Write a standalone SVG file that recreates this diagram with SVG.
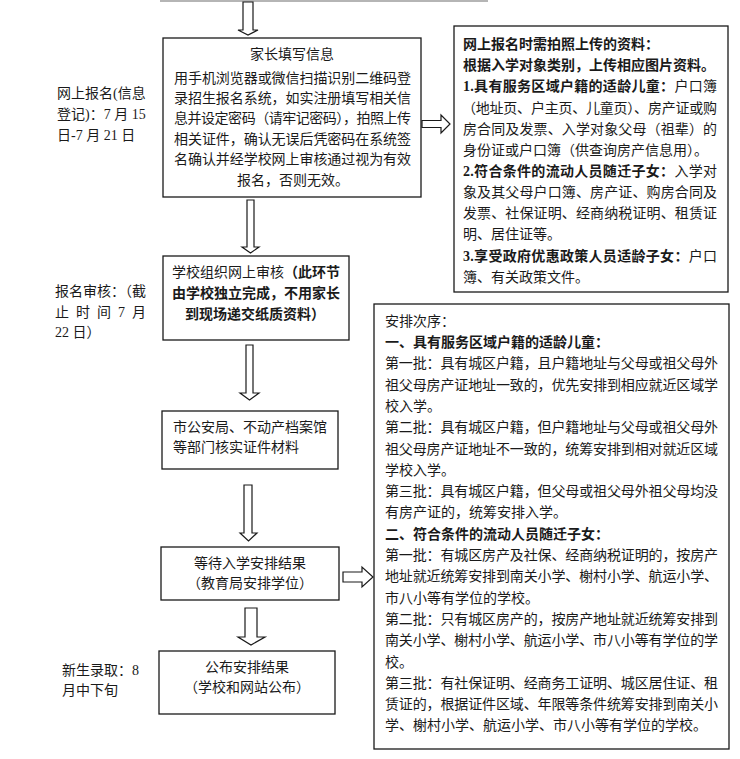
<svg xmlns="http://www.w3.org/2000/svg" width="740" height="759" viewBox="0 0 740 759">
<style>
.bg{fill:#fff}
.box{fill:#fff;stroke:#1a1a1a;stroke-width:1.3}
.arr{fill:#fff;stroke:#1a1a1a;stroke-width:1.2;stroke-linejoin:miter}
text{font-family:"Liberation Serif","Noto Sans CJK SC",serif;font-size:14px;fill:#1a1a1a}
.c{text-anchor:middle}
.b{font-weight:bold}
</style>
<rect class="bg" x="0" y="0" width="740" height="759"/>
<line x1="160" y1="1" x2="488" y2="1" stroke="#b5b5b5" stroke-width="2"/>

<g id="connectors">
  <polygon class="arr" points="243,2 253,2 253,30 258,30 248,35 238,30 243,30"/>
  <polygon class="arr" points="247,200 254,200 254,247 259,247 250.5,253 242,247 247,247"/>
  <polygon class="arr" points="246,345 253,345 253,393 259,393 249.5,400 240,393 246,393"/>
  <polygon class="arr" points="244,485 252,485 252,533 257,533 248.5,541 240,533 244,533"/>
  <polygon class="arr" points="245,608 257,608 257,637 265,637 251,645 238,637 245,637"/>
  <polygon class="arr" points="422,120.5 441,120.5 441,115 450,124 441,133 441,127.5 422,127.5"/>
  <polygon class="arr" points="343,572 362,572 362,567 373,577 362,587 362,582 343,582"/>
</g>

<g id="label-online">
  <text x="57" y="98">网上报名(信息</text>
  <text x="57" y="118.5">登记)：7 月 15</text>
  <text x="57" y="139.5">日-7 月 21 日</text>
</g>
<g id="label-review">
  <text x="55" y="296">报名审核：（截</text>
  <text x="55" y="317" textLength="91" lengthAdjust="spacing">止 时 间 7 月</text>
  <text x="55" y="337">22 日）</text>
</g>
<g id="label-admit">
  <text x="62" y="675">新生录取：8</text>
  <text x="62" y="695">月中下旬</text>
</g>

<g id="node-fill">
  <rect class="box" x="163" y="38" width="258" height="159"/>
  <text class="c" x="292" y="58.5">家长填写信息</text>
  <text x="174" y="82.5" textLength="237" lengthAdjust="spacing">用手机浏览器或微信扫描识别二维码登</text>
  <text x="174" y="102.8" textLength="237" lengthAdjust="spacing">录招生报名系统，如实注册填写相关信</text>
  <text x="174" y="123.4" textLength="237" lengthAdjust="spacing">息并设定密码（请牢记密码），拍照上传</text>
  <text x="174" y="143.8" textLength="237" lengthAdjust="spacing">相关证件，确认无误后凭密码在系统签</text>
  <text x="174" y="164.4" textLength="237" lengthAdjust="spacing">名确认并经学校网上审核通过视为有效</text>
  <text class="c" x="293" y="185">报名，否则无效。</text>
</g>

<g id="node-upload">
  <rect class="box" x="454" y="26" width="274" height="266"/>
  <text x="463" y="49" class="b">网上报名时需拍照上传的资料：</text>
  <text x="463" y="70.2" class="b">根据入学对象类别，上传相应图片资料。</text>
  <text x="463" y="91.3" textLength="254" lengthAdjust="spacing"><tspan class="b">1.具有服务区域户籍的适龄儿童：</tspan>户口簿</text>
  <text x="462" y="112.5" textLength="255" lengthAdjust="spacing">（地址页、户主页、儿童页）、房产证或购</text>
  <text x="463" y="133.6" textLength="254" lengthAdjust="spacing">房合同及发票、入学对象父母（祖辈）的</text>
  <text x="463" y="154.8">身份证或户口簿（供查询房产信息用）。</text>
  <text x="463" y="175.9" textLength="254" lengthAdjust="spacing"><tspan class="b">2.符合条件的流动人员随迁子女：</tspan>入学对</text>
  <text x="463" y="197.1" textLength="254" lengthAdjust="spacing">象及其父母户口簿、房产证、购房合同及</text>
  <text x="463" y="218.2" textLength="254" lengthAdjust="spacing">发票、社保证明、经商纳税证明、租赁证</text>
  <text x="463" y="239.4">明、居住证等。</text>
  <text x="463" y="260.5" textLength="254" lengthAdjust="spacing"><tspan class="b">3.享受政府优惠政策人员适龄子女：</tspan>户口</text>
  <text x="463" y="281.7">簿、有关政策文件。</text>
</g>

<g id="node-review">
  <rect class="box" x="163" y="256" width="186" height="84"/>
  <text class="c" x="256" y="277">学校组织网上审核<tspan class="b">（此环节</tspan></text>
  <text class="c b" x="256" y="298">由学校独立完成，不用家长</text>
  <text class="c b" x="255" y="319">到现场递交纸质资料）</text>
</g>

<g id="node-verify">
  <rect class="box" x="162" y="411" width="176" height="58"/>
  <text x="173" y="432">市公安局、不动产档案馆</text>
  <text x="173" y="452">等部门核实证件材料</text>
</g>

<g id="node-wait">
  <rect class="box" x="161" y="547" width="178" height="53"/>
  <text class="c" x="250" y="568">等待入学安排结果</text>
  <text class="c" x="250" y="588">（教育局安排学位）</text>
</g>

<g id="node-publish">
  <rect class="box" x="159" y="651" width="176" height="63"/>
  <text class="c" x="247" y="672">公布安排结果</text>
  <text class="c" x="247" y="692">（学校和网站公布）</text>
</g>

<g id="node-order">
  <rect class="box" x="374" y="304" width="355" height="445"/>
  <text x="385" y="325.7">安排次序：</text>
  <text x="385" y="347" class="b">一、具有服务区域户籍的适龄儿童：</text>
  <text x="385" y="368.3" textLength="333" lengthAdjust="spacing">第一批：具有城区户籍，且户籍地址与父母或祖父母外</text>
  <text x="385" y="389.6" textLength="333" lengthAdjust="spacing">祖父母房产证地址一致的，优先安排到相应就近区域学</text>
  <text x="385" y="410.9">校入学。</text>
  <text x="385" y="432.2" textLength="333" lengthAdjust="spacing">第二批：具有城区户籍，但户籍地址与父母或祖父母外</text>
  <text x="385" y="453.5" textLength="333" lengthAdjust="spacing">祖父母房产证地址不一致的，统筹安排到相对就近区域</text>
  <text x="385" y="474.8">学校入学。</text>
  <text x="385" y="496.1" textLength="333" lengthAdjust="spacing">第三批：具有城区户籍，但父母或祖父母外祖父母均没</text>
  <text x="385" y="517.4">有房产证的，统筹安排入学。</text>
  <text x="385" y="538.7" class="b">二、符合条件的流动人员随迁子女：</text>
  <text x="385" y="560" textLength="333" lengthAdjust="spacing">第一批：有城区房产及社保、经商纳税证明的，按房产</text>
  <text x="385" y="581.3" textLength="333" lengthAdjust="spacing">地址就近统筹安排到南关小学、榭村小学、航运小学、</text>
  <text x="385" y="602.6">市八小等有学位的学校。</text>
  <text x="385" y="623.9" textLength="333" lengthAdjust="spacing">第二批：只有城区房产的，按房产地址就近统筹安排到</text>
  <text x="385" y="645.2" textLength="333" lengthAdjust="spacing">南关小学、榭村小学、航运小学、市八小等有学位的学</text>
  <text x="385" y="666.5">校。</text>
  <text x="385" y="687.8" textLength="333" lengthAdjust="spacing">第三批：有社保证明、经商务工证明、城区居住证、租</text>
  <text x="385" y="709.1" textLength="333" lengthAdjust="spacing">赁证的，根据证件区域、年限等条件统筹安排到南关小</text>
  <text x="385" y="730.4">学、榭村小学、航运小学、市八小等有学位的学校。</text>
</g>
</svg>
